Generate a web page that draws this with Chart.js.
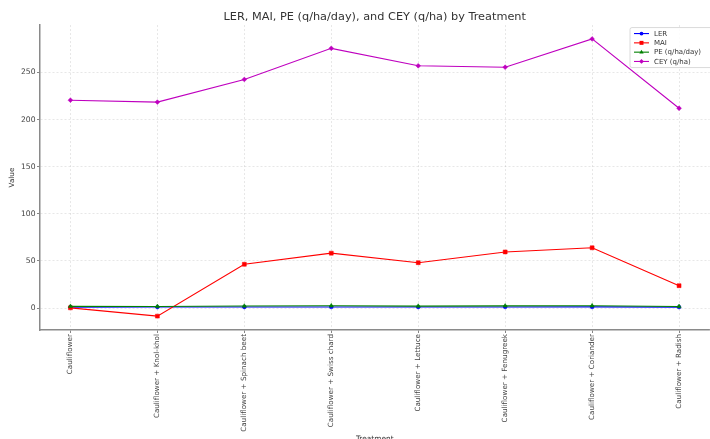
<!DOCTYPE html>
<html lang="en">
<head>
  <meta charset="UTF-8">
  <title>LER, MAI, PE and CEY by Treatment</title>
  <script src="https://cdn.jsdelivr.net/npm/chart.js"></script>
  <style>
    html, body {
      margin: 0;
      padding: 0;
      background: #fff;
    }

    .wrap {
      width: 710px;
      height: 439px;
      overflow: hidden;
    }

    canvas {
      display: block;
    }
  </style>
</head>
<body>
  <div class="wrap">
    <canvas id="chart" width="714" height="448"></canvas>
  </div>

  <script>
    const treatments = [
      "Cauliflower",
      "Cauliflower + Knol-khol",
      "Cauliflower + Spinach beet",
      "Cauliflower + Swiss chard",
      "Cauliflower + Lettuce",
      "Cauliflower + Fenugreek",
      "Cauliflower + Coriander",
      "Cauliflower + Radish"
    ];
    const ler = [1.0, 1.12, 1.18, 1.22, 1.15, 1.25, 1.28, 1.1];
    const mai = [0.3, -8.5, 46.5, 58.3, 48.2, 59.6, 64.0, 23.8];
    const pe = [1.9, 1.8, 2.2, 2.5, 2.1, 2.4, 2.5, 1.8];
    const cey = [220.5, 218.5, 242.5, 275.5, 257.0, 255.5, 285.5, 212.0];
    const yTicks = [0, 50, 100, 150, 200, 250];

    const FONT = "'DejaVu Sans', sans-serif";

    const series = [
      { label: "LER", values: ler, color: "#0000ff", marker: "circle", radius: 1.9 },
      { label: "MAI", values: mai, color: "#ff0000", marker: "rect", radius: 2.8 },
      { label: "PE (q/ha/day)", values: pe, color: "#008000", marker: "triangle", radius: 2.4 },
      { label: "CEY (q/ha)", values: cey, color: "#bf00bf", marker: "rectRot", radius: 2.4 }
    ];

    function drawMarker(ctx, style, x, y, r) {
      ctx.beginPath();
      if (style === "circle") {
        ctx.arc(x, y, r, 0, Math.PI * 2);
      } else if (style === "rect") {
        const s = r * Math.SQRT1_2;
        ctx.rect(x - s, y - s, 2 * s, 2 * s);
      } else if (style === "triangle") {
        ctx.moveTo(x, y - r);
        ctx.lineTo(x + r * 0.9, y + r * 0.6);
        ctx.lineTo(x - r * 0.9, y + r * 0.6);
        ctx.closePath();
      } else {
        ctx.moveTo(x, y - r);
        ctx.lineTo(x + r, y);
        ctx.lineTo(x, y + r);
        ctx.lineTo(x - r, y);
        ctx.closePath();
      }
      ctx.fill();
    }

    // legend box inside the plot, top right
    const legendBox = {
      id: "legendBox",
      afterDraw(chart) {
        const ctx = chart.ctx;
        const area = chart.chartArea;
        const x0 = 630, y0 = area.top + 2.5;
        const w = 82, h = 40;
        ctx.save();
        ctx.fillStyle = "rgba(255,255,255,0.85)";
        ctx.strokeStyle = "#d0d0d0";
        ctx.lineWidth = 0.8;
        ctx.beginPath();
        ctx.roundRect(x0, y0, w, h, 2);
        ctx.fill();
        ctx.stroke();
        ctx.font = "7px " + FONT;
        ctx.textBaseline = "middle";
        chart.data.datasets.forEach((ds, i) => {
          const y = y0 + 6 + i * 9.3;
          ctx.strokeStyle = ds.borderColor;
          ctx.lineWidth = 1.1;
          ctx.beginPath();
          ctx.moveTo(x0 + 4, y);
          ctx.lineTo(x0 + 19, y);
          ctx.stroke();
          ctx.fillStyle = ds.borderColor;
          drawMarker(ctx, ds.pointStyle, x0 + 11.5, y, ds.pointRadius);
          ctx.fillStyle = "#333";
          ctx.fillText(ds.label, x0 + 24, y + 0.5);
        });
        ctx.restore();
      }
    };

    new Chart(document.getElementById("chart"), {
      type: "line",
      data: {
        datasets: series.map((s, i) => ({
          label: s.label,
          data: s.values.map((v, k) => ({ x: k, y: v })),
          borderColor: s.color,
          backgroundColor: s.color,
          borderWidth: 1.1,
          pointStyle: s.marker,
          pointRadius: s.radius,
          pointBackgroundColor: s.color,
          pointBorderColor: s.color,
          pointBorderWidth: 0.5,
          tension: 0,
          order: series.length - i
        }))
      },
      options: {
        responsive: false,
        animation: false,
        layout: { padding: 0 },
        plugins: {
          legend: { display: false },
          tooltip: { enabled: false },
          title: {
            display: true,
            text: "LER, MAI, PE (q/ha/day), and CEY (q/ha) by Treatment",
            fullSize: false,
            color: "#333",
            font: { family: FONT, size: 11.3, weight: "normal" },
            padding: { top: 10.5, bottom: 1 }
          }
        },
        scales: {
          x: {
            type: "linear",
            min: -0.35,
            max: 7.35,
            afterBuildTicks: s => { s.ticks = treatments.map((t, i) => ({ value: i })); },
            afterFit: s => {
              s.height = 118;
              s.paddingLeft = 0;
              s.paddingRight = 0;
            },
            ticks: {
              autoSkip: false,
              maxRotation: 90,
              minRotation: 90,
              padding: 1,
              color: "#444",
              font: { family: FONT, size: 7.2 },
              callback: v => treatments[v]
            },
            grid: {
              color: "rgba(0,0,0,0.12)",
              lineWidth: 0.8,
              tickLength: 3,
              tickColor: "#666"
            },
            border: { color: "#8a8a8a", width: 1.5, dash: [2, 2] },
            title: {
              display: true,
              text: "Treatment",
              color: "#333",
              font: { family: FONT, size: 7.4 },
              padding: { top: 0, bottom: 4 }
            }
          },
          y: {
            min: -23.2,
            max: 300.2,
            afterBuildTicks: s => { s.ticks = yTicks.map(v => ({ value: v })); },
            afterFit: s => {
              s.width = 40;
              s.paddingTop = 0;
              s.paddingBottom = 0;
            },
            ticks: {
              padding: 1.5,
              color: "#444",
              font: { family: FONT, size: 7.6 }
            },
            grid: {
              color: "rgba(0,0,0,0.12)",
              lineWidth: 0.8,
              tickLength: 3,
              tickColor: "#666"
            },
            border: { color: "#8a8a8a", width: 1.5, dash: [2, 2] },
            title: {
              display: true,
              text: "Value",
              color: "#333",
              font: { family: FONT, size: 7.2 },
              padding: { top: 8, bottom: 0 }
            }
          }
        }
      },
      plugins: [legendBox]
    });
  </script>
</body>
</html>
